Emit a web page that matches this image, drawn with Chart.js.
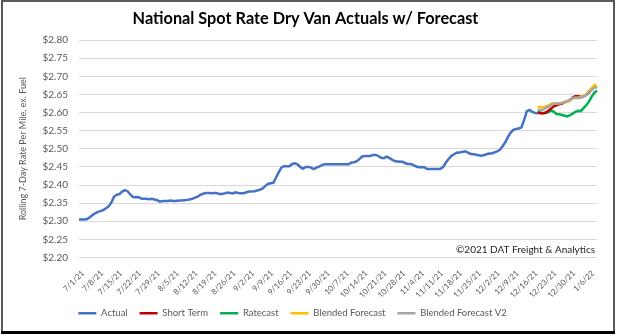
<!DOCTYPE html>
<html>
<head>
<meta charset="utf-8">
<script src="https://cdn.jsdelivr.net/npm/chart.js@4.4.1/dist/chart.umd.min.js"></script>
<style>
  html, body { margin: 0; padding: 0; background: #fff; }
</style>
</head>
<body>
<canvas id="myChart" width="618" height="335"></canvas>
<script>
// daily dates 7/1/21 .. 1/9/22
const startDate = new Date(2021, 6, 1);
const dayCount = 193;
const forecastStart = 170;   // index of 12/18/21

const actual = [
    2.305, 2.305, 2.305, 2.306, 2.311, 2.317, 2.322, 2.326, 2.328, 2.331,
    2.336, 2.341, 2.352, 2.368, 2.373, 2.375, 2.382, 2.386, 2.383, 2.374,
    2.367, 2.366, 2.367, 2.363, 2.362, 2.362, 2.361, 2.362, 2.360, 2.358,
    2.354, 2.356, 2.356, 2.356, 2.357, 2.356, 2.356, 2.357, 2.357, 2.358,
    2.359, 2.360, 2.362, 2.365, 2.368, 2.373, 2.376, 2.378, 2.378, 2.377,
    2.378, 2.378, 2.375, 2.375, 2.377, 2.379, 2.378, 2.377, 2.380, 2.378,
    2.377, 2.377, 2.380, 2.382, 2.382, 2.383, 2.385, 2.387, 2.390, 2.397,
    2.403, 2.405, 2.406, 2.420, 2.435, 2.448, 2.452, 2.452, 2.452, 2.458,
    2.460, 2.457, 2.450, 2.445, 2.450, 2.450, 2.448, 2.444, 2.448, 2.451,
    2.455, 2.457, 2.457, 2.457, 2.457, 2.457, 2.457, 2.457, 2.457, 2.457,
    2.457, 2.462, 2.463, 2.466, 2.472, 2.479, 2.480, 2.480, 2.480, 2.483,
    2.483, 2.480, 2.475, 2.474, 2.478, 2.475, 2.470, 2.466, 2.465, 2.464,
    2.464, 2.460, 2.458, 2.458, 2.455, 2.451, 2.449, 2.450, 2.449, 2.444,
    2.444, 2.444, 2.444, 2.444, 2.445, 2.450, 2.462, 2.472, 2.480, 2.485,
    2.489, 2.490, 2.491, 2.493, 2.490, 2.486, 2.485, 2.484, 2.482, 2.481,
    2.482, 2.485, 2.487, 2.487, 2.490, 2.493, 2.497, 2.507, 2.518, 2.533,
    2.545, 2.552, 2.555, 2.556, 2.559, 2.580, 2.604, 2.607, 2.602, 2.599,
    2.597
];

// forecasts, from 12/18/21 on
const shortTerm = [
    2.600, 2.598, 2.598, 2.600, 2.605, 2.611, 2.617, 2.620, 2.623, 2.625,
    2.628, 2.630, 2.634, 2.642, 2.645, 2.645, 2.643, 2.645, 2.649, 2.655,
    2.665, 2.670, 2.672
];
const ratecast = [
    2.603, 2.600, 2.598, 2.599, 2.601, 2.606, 2.602, 2.596, 2.595, 2.593,
    2.591, 2.589, 2.593, 2.597, 2.602, 2.605, 2.604, 2.612, 2.620, 2.630,
    2.643, 2.655, 2.660
];
const blended = [
    2.616, 2.615, 2.614, 2.617, 2.620, 2.624, 2.625, 2.624, 2.626, 2.627,
    2.628, 2.630, 2.635, 2.640, 2.641, 2.641, 2.643, 2.646, 2.650, 2.660,
    2.667, 2.676, 2.673
];
const blendedV2 = [
    2.608, 2.607, 2.608, 2.612, 2.616, 2.621, 2.624, 2.625, 2.625, 2.626,
    2.629, 2.632, 2.636, 2.640, 2.640, 2.640, 2.641, 2.644, 2.648, 2.656,
    2.662, 2.668, 2.670
];

let labels = [];
for (let i = 0; i < dayCount; i++) {
    let d = new Date(startDate);
    d.setDate(d.getDate() + i);
    labels.push((d.getMonth() + 1) + '/' + d.getDate() + '/' + String(d.getFullYear()).slice(2));
}

function padForecast(arr) {
    return new Array(forecastStart).fill(null).concat(arr);
}

const font = 'Lato';

// copyright note + outer frame, legend nudged left like the original
const frameAndNote = {
    id: 'frameAndNote',
    afterLayout(chart) {
        chart.legend.left -= 13;
        chart.legend.right -= 13;
    },
    afterDraw(chart) {
        const c = chart.ctx;
        const area = chart.chartArea;
        c.save();
        c.font = '10px ' + font;
        c.fillStyle = '#262626';
        c.textAlign = 'right';
        c.textBaseline = 'middle';
        c.fillText('©2021 DAT Freight & Analytics', area.right - 2, area.bottom - 8);
        c.strokeStyle = '#595959';
        c.lineWidth = 2;
        c.strokeRect(2, 1, 612, 331);
        c.strokeStyle = '#000';
        c.lineWidth = 3;
        c.beginPath();
        c.moveTo(1, 332.5);
        c.lineTo(615, 332.5);
        c.stroke();
        c.restore();
    }
};

const ctx = document.getElementById('myChart').getContext('2d');

// later series drawn on top (lower order = drawn last)
const data = {
    labels: labels,
    datasets: [
        { label: 'Actual', data: actual, borderColor: '#4472C4', backgroundColor: '#4472C4', borderWidth: 2.5, order: 5 },
        { label: 'Short Term', data: padForecast(shortTerm), borderColor: '#C00000', backgroundColor: '#C00000', borderWidth: 2.5, order: 3 },
        { label: 'Ratecast', data: padForecast(ratecast), borderColor: '#00B050', backgroundColor: '#00B050', borderWidth: 2.5, order: 4 },
        { label: 'Blended Forecast', data: padForecast(blended), borderColor: '#FFC000', backgroundColor: '#FFC000', borderWidth: 2.5, order: 2 },
        { label: 'Blended Forecast V2', data: padForecast(blendedV2), borderColor: '#A5A5A5', backgroundColor: '#A5A5A5', borderWidth: 2.5, order: 1 }
    ]
};

const options = {
    responsive: false,
    animation: false,
    layout: { padding: { left: 14, right: 21, top: 4.5, bottom: 7 } },
    elements: {
        point: { radius: 0 },
        line: { tension: 0 }
    },
    plugins: {
        title: {
            display: true,
            text: 'National Spot Rate Dry Van Actuals w/ Forecast',
            color: '#000',
            font: { family: font, size: 16.3, weight: 'bold' },
            padding: { top: 4, bottom: 12 }
        },
        legend: {
            position: 'bottom',
            labels: {
                usePointStyle: true,
                pointStyle: 'line',
                pointStyleWidth: 18,
                color: '#595959',
                font: { family: font, size: 9.5 },
                padding: 12,
                sort: (a, b) => a.datasetIndex - b.datasetIndex
            }
        },
        tooltip: { enabled: false }
    },
    scales: {
        x: {
            grid: { display: false },
            border: { display: false },
            ticks: {
                autoSkip: false,
                minRotation: 45,
                maxRotation: 45,
                labelOffset: 4,
                color: '#595959',
                font: { family: font, size: 8 },
                callback: function(val, idx) {
                    return idx % 7 === 0 ? labels[idx] : null;
                }
            },
            afterFit: function(scale) { scale.height = 39; }
        },
        y: {
            min: 2.2,
            max: 2.8,
            grid: { color: '#d9d9d9', drawTicks: false },
            border: { display: false },
            ticks: {
                stepSize: 0.05,
                padding: 11,
                color: '#595959',
                font: { family: font, size: 10 },
                callback: function(v) { return '$' + Number(v).toFixed(2); }
            },
            title: {
                display: true,
                text: 'Rolling 7-Day Rate Per Mile, ex. Fuel',
                color: '#595959',
                font: { family: font, size: 9 }
            },
            afterFit: function(scale) { scale.width = 65; }
        }
    }
};

let config = {
    type: 'line',
    data: data,
    options: options,
    plugins: [frameAndNote]
};

let graph = new Chart(ctx, config);
</script>
</body>
</html>
